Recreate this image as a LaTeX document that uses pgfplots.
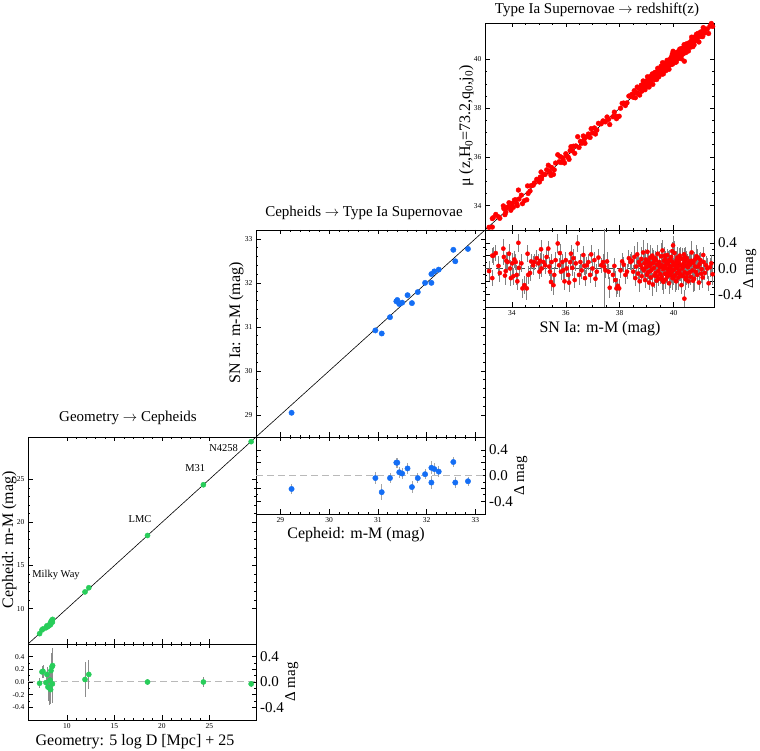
\documentclass[border=0pt]{standalone}
\usepackage{fontspec}
\setmainfont{Liberation Serif}
\usepackage{pgfplots}
\usepackage{pgfplotstable}
\pgfplotsset{compat=1.18}
\definecolor{cgreen}{RGB}{40,205,90}
\definecolor{cblue}{RGB}{20,110,245}
\definecolor{cred}{RGB}{255,0,0}

\pgfplotstableread{
x y r e
7.12 7.10 -0.02 0.08
7.37 7.53 0.16 0.10
7.47 7.64 0.17 0.10
7.79 7.78 -0.01 0.10
7.89 8.01 0.12 0.12
8.00 7.92 -0.08 0.22
8.18 8.08 -0.10 0.26
8.22 8.25 0.03 0.22
8.28 8.16 -0.12 0.22
8.32 8.50 0.18 0.28
8.42 8.66 0.24 0.30
8.49 8.75 0.26 0.28
8.47 8.44 -0.03 0.30
11.90 11.94 0.04 0.27
12.30 12.42 0.12 0.23
18.48 18.48 0.00 0.05
24.36 24.36 0.00 0.08
29.39 29.36 -0.03 0.05
}\geoTable

\pgfplotstableread{
x y r e
29.23 29.05 -0.21 0.08
30.95 30.92 -0.04 0.09
31.08 30.85 -0.26 0.12
31.25 31.22 -0.04 0.08
31.38 31.58 0.20 0.08
31.40 31.61 0.20 0.08
31.44 31.52 0.05 0.09
31.50 31.55 0.03 0.08
31.61 31.72 0.11 0.08
31.70 31.54 -0.18 0.09
31.82 31.79 -0.04 0.08
31.97 32.00 0.02 0.08
32.10 32.20 0.12 0.10
32.10 32.00 -0.11 0.10
32.16 32.26 0.10 0.10
32.25 32.30 0.06 0.09
32.55 32.75 0.21 0.08
32.59 32.49 -0.11 0.08
32.85 32.77 -0.09 0.07
}\cephTable

\pgfplotstableread{
x y r e
33.15 33.11 -0.04 0.15
33.27 33.47 0.20 0.12
33.31 33.51 0.20 0.14
33.40 33.64 0.24 0.12
33.27 33.12 -0.15 0.13
33.50 33.54 0.04 0.16
33.55 33.48 -0.07 0.14
33.68 33.99 0.31 0.15
33.70 33.88 0.18 0.12
33.79 33.91 0.12 0.14
33.84 33.94 0.10 0.13
33.89 34.12 0.23 0.15
33.77 33.73 -0.04 0.12
33.74 33.63 -0.11 0.15
33.93 33.93 0.00 0.14
33.96 33.81 -0.15 0.12
34.01 34.09 0.08 0.16
34.05 33.93 -0.12 0.13
34.09 34.23 0.14 0.13
34.14 34.24 0.10 0.12
34.18 34.08 -0.10 0.15
34.24 34.64 0.40 0.14
34.20 34.00 -0.20 0.13
34.26 34.27 0.01 0.12
34.35 34.43 0.08 0.14
34.39 34.08 -0.31 0.15
34.46 34.20 -0.26 0.14
34.55 34.24 -0.31 0.18
34.58 34.81 0.23 0.13
34.60 34.50 -0.10 0.14
34.67 34.60 -0.07 0.13
34.71 34.82 0.11 0.12
34.79 34.84 0.05 0.15
34.83 34.93 0.10 0.12
34.92 35.08 0.16 0.13
34.98 35.06 0.08 0.14
35.02 34.97 -0.05 0.12
35.05 35.17 0.12 0.12
35.08 35.38 0.30 0.15
35.10 35.10 0.00 0.13
35.17 35.27 0.10 0.12
35.23 35.28 0.05 0.14
35.29 35.47 0.18 0.13
35.35 35.66 0.31 0.12
35.38 35.41 0.03 0.15
35.41 35.36 -0.05 0.13
35.45 35.24 -0.21 0.14
35.47 35.57 0.10 0.12
35.54 35.28 -0.26 0.16
35.57 35.47 -0.10 0.13
35.62 35.75 0.13 0.12
35.70 36.09 0.39 0.15
35.75 35.80 0.05 0.12
35.78 36.02 0.24 0.14
35.82 35.77 -0.05 0.13
35.87 35.97 0.10 0.12
35.90 35.87 -0.03 0.13
35.95 35.75 -0.20 0.14
36.00 36.13 0.13 0.12
36.03 36.03 0.00 0.13
36.09 35.99 -0.10 0.15
36.12 35.90 -0.22 0.15
36.16 36.26 0.10 0.12
36.19 36.42 0.23 0.13
36.24 36.25 0.01 0.12
36.28 36.44 0.16 0.14
36.33 36.15 -0.18 0.13
36.37 36.45 0.08 0.12
36.44 36.83 0.39 0.13
36.49 36.39 -0.10 0.15
36.54 36.64 0.10 0.12
36.59 36.56 -0.03 0.13
36.65 36.86 0.21 0.14
36.68 36.72 0.04 0.14
36.71 36.56 -0.15 0.12
36.78 36.83 0.05 0.13
36.84 36.94 0.10 0.12
36.90 36.80 -0.10 0.12
36.94 37.16 0.22 0.14
36.99 36.99 0.00 0.12
37.06 37.19 0.13 0.13
37.10 36.94 -0.16 0.13
37.15 37.10 -0.05 0.12
37.21 37.38 0.17 0.14
37.31 37.36 0.05 0.12
37.38 37.48 0.10 0.13
37.42 37.45 0.03 0.70
37.47 37.44 -0.03 0.12
37.53 37.64 0.11 0.14
37.59 37.54 -0.05 0.12
37.63 37.33 -0.30 0.16
37.75 37.65 -0.10 0.13
37.80 37.84 0.04 0.12
37.84 37.66 -0.18 0.14
37.88 37.57 -0.31 0.13
37.93 37.66 -0.27 0.12
37.98 37.67 -0.31 0.14
38.03 38.00 -0.03 0.12
38.09 38.20 0.11 0.13
38.15 38.21 0.06 0.12
38.21 38.11 -0.10 0.14
38.27 38.22 -0.05 0.12
38.34 38.50 0.16 0.13
38.40 38.50 0.10 0.12
38.45 38.57 0.12 0.14
38.50 38.45 -0.05 0.11
38.54 38.72 0.18 0.17
38.58 38.43 -0.15 0.12
38.61 38.64 0.03 0.15
38.65 38.87 0.22 0.20
38.68 38.60 -0.08 0.10
38.71 38.81 0.10 0.13
38.74 38.54 -0.20 0.16
38.77 38.82 0.05 0.12
38.80 38.95 0.15 0.18
38.82 38.70 -0.12 0.11
38.85 38.85 0.00 0.14
38.87 39.12 0.25 0.19
38.90 38.87 -0.03 0.12
38.92 39.00 0.08 0.15
38.94 38.76 -0.18 0.13
38.97 39.11 0.14 0.17
38.99 39.01 0.02 0.10
39.01 38.91 -0.10 0.14
39.02 39.11 0.09 0.16
39.03 39.29 0.26 0.14
39.05 38.99 -0.06 0.11
39.07 39.18 0.11 0.17
39.09 38.87 -0.22 0.12
39.11 39.15 0.04 0.15
39.13 39.30 0.17 0.20
39.14 39.10 -0.04 0.13
39.15 39.01 -0.14 0.10
39.17 39.24 0.07 0.13
39.19 39.17 -0.02 0.16
39.21 39.41 0.20 0.12
39.23 38.98 -0.25 0.18
39.25 39.34 0.09 0.11
39.26 39.41 0.15 0.14
39.27 39.28 0.01 0.14
39.29 39.18 -0.11 0.19
39.31 39.47 0.16 0.12
39.33 39.26 -0.07 0.15
39.35 39.48 0.13 0.13
39.37 39.18 -0.19 0.17
39.38 39.26 -0.12 0.12
39.39 39.45 0.06 0.10
39.41 39.64 0.23 0.14
39.43 39.39 -0.04 0.14
39.45 39.29 -0.16 0.11
39.47 39.57 0.10 0.17
39.48 39.54 0.06 0.15
39.49 39.51 0.02 0.12
39.51 39.42 -0.09 0.15
39.53 39.72 0.19 0.20
39.55 39.42 -0.13 0.10
39.57 39.62 0.05 0.13
39.58 39.40 -0.18 0.16
39.59 39.87 0.28 0.16
39.61 39.60 -0.01 0.12
39.62 39.41 -0.21 0.18
39.64 39.76 0.12 0.11
39.65 39.85 0.20 0.14
39.66 39.69 0.03 0.14
39.68 39.60 -0.08 0.19
39.69 39.84 0.15 0.12
39.71 39.54 -0.17 0.15
39.72 39.63 -0.09 0.13
39.73 39.80 0.07 0.13
39.74 39.74 0.00 0.17
39.76 39.97 0.21 0.10
39.78 39.66 -0.12 0.14
39.79 39.88 0.09 0.14
39.80 39.91 0.11 0.16
39.81 39.76 -0.05 0.11
39.83 39.60 -0.23 0.17
39.84 39.88 0.04 0.12
39.86 40.00 0.14 0.15
39.87 39.85 -0.02 0.20
39.88 39.78 -0.10 0.20
39.89 39.91 0.02 0.10
39.91 40.09 0.18 0.13
39.93 39.87 -0.06 0.16
39.94 40.05 0.11 0.12
39.95 40.22 0.27 0.14
39.96 39.81 -0.15 0.18
39.98 40.34 0.36 0.15
39.99 40.05 0.06 0.11
40.00 39.87 -0.13 0.13
40.01 39.99 -0.02 0.14
40.03 40.27 0.24 0.19
40.04 39.93 -0.11 0.12
40.05 40.10 0.05 0.15
40.06 40.14 0.08 0.13
40.08 39.89 -0.19 0.17
40.09 40.10 0.01 0.10
40.10 39.90 -0.20 0.14
40.11 40.24 0.13 0.14
40.13 40.06 -0.07 0.11
40.14 40.31 0.17 0.17
40.15 40.24 0.09 0.12
40.16 40.19 0.03 0.15
40.18 40.04 -0.14 0.20
40.19 40.29 0.10 0.10
40.20 40.17 -0.03 0.13
40.21 40.17 -0.04 0.16
40.23 40.43 0.20 0.12
40.24 40.40 0.16 0.18
40.25 40.16 -0.09 0.11
40.27 40.32 0.05 0.14
40.29 40.03 -0.26 0.14
40.30 40.19 -0.11 0.12
40.31 40.46 0.15 0.17
40.33 40.33 0.00 0.12
40.35 40.23 -0.12 0.15
40.36 40.40 0.04 0.13
40.37 40.45 0.08 0.17
40.39 40.61 0.22 0.10
40.40 39.93 -0.47 0.14
40.41 40.35 -0.06 0.14
40.42 40.60 0.18 0.16
40.43 40.55 0.12 0.11
40.45 40.28 -0.17 0.17
40.47 40.51 0.04 0.15
40.48 40.34 -0.14 0.12
40.49 40.65 0.16 0.12
40.51 40.43 -0.08 0.15
40.53 40.55 0.02 0.20
40.54 40.61 0.07 0.13
40.55 40.35 -0.20 0.10
40.58 40.69 0.11 0.13
40.60 40.54 -0.06 0.16
40.61 40.67 0.06 0.16
40.64 40.51 -0.13 0.12
40.66 40.78 0.12 0.14
40.67 40.92 0.25 0.18
40.70 40.67 -0.03 0.11
40.72 40.53 -0.19 0.17
40.73 40.82 0.09 0.14
40.76 40.60 -0.16 0.19
40.79 40.93 0.14 0.12
40.80 40.83 0.03 0.15
40.82 40.77 -0.05 0.13
40.85 41.04 0.19 0.17
40.88 40.78 -0.10 0.10
40.90 41.07 0.17 0.14
40.91 40.94 0.03 0.14
40.94 40.72 -0.22 0.11
40.97 41.04 0.07 0.17
41.00 41.13 0.13 0.12
41.02 40.94 -0.08 0.15
41.04 41.03 -0.01 0.13
41.08 40.94 -0.14 0.16
41.10 41.31 0.21 0.12
41.12 41.22 0.10 0.18
41.16 41.09 -0.07 0.11
41.20 41.25 0.05 0.14
41.25 41.25 0.00 0.17
41.30 41.07 -0.23 0.12
41.35 41.37 0.02 0.15
41.40 41.48 0.08 0.13
41.45 41.36 -0.09 0.16
}\snTable

\pgfplotsset{
  base/.style={
    scale only axis, anchor=south west,
    tick align=inside, xtick pos=both, ytick pos=both,
    major tick length=4.5bp, minor tick length=2.2bp,
    every tick/.style={black, line width=0.6bp},
    axis line style={line width=0.9bp},
    tick label style={font=\fontsize{7.5bp}{9bp}\selectfont},
    /pgf/number format/assume math mode=true,
  },
  res/.style={base, ymin=-0.6, ymax=0.6,
    ytick={-0.4,-0.2,0,0.2,0.4}, minor y tick num=1,
    yticklabel style={/pgf/number format/.cd, fixed, fixed zerofill, precision=1},
  },
  rlab/.style={scale only axis, anchor=south west, hide x axis,
    axis y line*=right, y axis line style={draw=none},
    ymin=-0.6, ymax=0.6, ytick={-0.4,0,0.4}, yticklabels={-0.4,0.0,0.4},
    major tick length=0pt, minor tick num=0,
    yticklabel style={font=\fontsize{15bp}{18bp}\selectfont, xshift=0.5bp},
  },
  ebar/.style={error bars/.cd, y dir=both, y explicit, error mark=none,
    error bar style={#1, line width=0.8bp}},
}

\newcommand{\ttl}{\fontsize{15bp}{18bp}\selectfont}
\newcommand{\lbl}{\fontsize{16bp}{19bp}\selectfont}

\begin{document}
\begin{tikzpicture}[x=1bp,y=1bp]
\path[use as bounding box] (0,0) rectangle (760,751);

% ---------------- Panel 1: Geometry -> Cepheids ----------------
\begin{axis}[base, at={(28bp,107bp)}, width=228bp, height=207bp,
  xmin=5.9, xmax=29.9, ymin=5.9, ymax=29.9,
  xtick={10,15,20,25}, ytick={10,15,20,25}, minor tick num=4,
  xticklabels={}]
  \addplot[black, line width=0.6bp] coordinates {(5.9,5.9) (29.9,29.9)};
  \addplot[only marks, mark=*, mark size=2.6bp, color=cgreen] table[x=x,y=y] {\geoTable};
  \node[font=\fontsize{10.5bp}{12bp}\selectfont] at (axis cs:8.85,13.9) {Milky Way};
  \node[font=\fontsize{10.5bp}{12bp}\selectfont] at (axis cs:17.7,20.4) {LMC};
  \node[font=\fontsize{10.5bp}{12bp}\selectfont] at (axis cs:23.5,26.3) {M31};
  \node[font=\fontsize{10.5bp}{12bp}\selectfont] at (axis cs:26.5,28.6) {N4258};
\end{axis}
\begin{axis}[res, at={(28bp,31bp)}, width=228bp, height=76bp,
  xmin=5.9, xmax=29.9, xtick={10,15,20,25}, minor x tick num=4]
  \addplot[gray!55, line width=1bp, dash pattern=on 7bp off 4bp] coordinates {(5.9,0) (29.9,0)};
  \addplot[only marks, mark=*, mark size=2.6bp, color=cgreen, ebar={black!45}] table[x=x,y=r,y error=e] {\geoTable};
\end{axis}
\begin{axis}[rlab, at={(28bp,31bp)}, width=228bp, height=76bp, xmin=5.9, xmax=29.9]
\end{axis}

% ---------------- Panel 2: Cepheids -> SN Ia ----------------
\begin{axis}[base, at={(256bp,314bp)}, width=229bp, height=207bp,
  xmin=28.5, xmax=33.2, ymin=28.5, ymax=33.2,
  xtick={29,30,31,32,33}, ytick={29,30,31,32,33}, minor tick num=4,
  xticklabels={}]
  \addplot[black, line width=0.6bp] coordinates {(28.5,28.5) (33.2,33.2)};
  \addplot[only marks, mark=*, mark size=2.7bp, color=cblue] table[x=x,y=y] {\cephTable};
\end{axis}
\begin{axis}[res, at={(256bp,237bp)}, width=229bp, height=77bp,
  xmin=28.5, xmax=33.2, xtick={29,30,31,32,33}, minor x tick num=4,
  yticklabels={}]
  \addplot[gray!55, line width=1bp, dash pattern=on 7bp off 4bp] coordinates {(28.5,0) (33.2,0)};
  \addplot[only marks, mark=*, mark size=2.7bp, color=cblue, ebar={black!35}] table[x=x,y=r,y error=e] {\cephTable};
\end{axis}
\begin{axis}[rlab, at={(256bp,237bp)}, width=229bp, height=77bp, xmin=28.5, xmax=33.2]
\end{axis}

% ---------------- Panel 3: SN Ia -> redshift ----------------
\begin{axis}[base, at={(485bp,521bp)}, width=229bp, height=207bp,
  xmin=33, xmax=41.5, ymin=33, ymax=41.5,
  xtick={34,36,38,40}, ytick={34,36,38,40}, minor tick num=3,
  xticklabels={}]
  \addplot[only marks, mark=*, mark size=2.4bp, color=cred] table[x=x,y=y] {\snTable};
  \addplot[black, line width=0.6bp] coordinates {(33,33) (41.5,41.5)};
\end{axis}
\begin{axis}[res, at={(485bp,444bp)}, width=229bp, height=77bp,
  xmin=33, xmax=41.5, xtick={34,36,38,40}, minor x tick num=3,
  yticklabels={}]
  \addplot[black!70, line width=0.8bp, dash pattern=on 7bp off 4bp] coordinates {(33,0) (41.5,0)};
  \addplot[only marks, mark=*, mark size=2.1bp, color=cred, ebar={black!50}] table[x=x,y=r,y error=e] {\snTable};
\end{axis}
\begin{axis}[rlab, at={(485bp,444bp)}, width=229bp, height=77bp, xmin=33, xmax=41.5]
\end{axis}

% ---------------- Titles and labels ----------------
\node[anchor=base, font=\ttl] at (128,329.5) {Geometry $\rightarrow$ Cepheids};
\node[anchor=base, font=\ttl] at (364,534.5) {Cepheids $\rightarrow$ Type Ia Supernovae};
\node[anchor=base, font=\ttl] at (597,737.5) {Type Ia Supernovae $\rightarrow$ redshift(z)};

\node[anchor=base, font=\lbl] at (135,5) {Geometry: 5 log D [Mpc] + 25};
\node[anchor=base, font=\lbl] at (356,212) {Cepheid: m-M (mag)};
\node[anchor=base, font=\lbl] at (600,418) {SN Ia: m-M (mag)};

\node[anchor=base, rotate=90, font=\lbl] at (13,211) {Cepheid: m-M (mag)};
\node[anchor=base, rotate=90, font=\lbl] at (240,428) {SN Ia: m-M (mag)};
\node[anchor=base, rotate=90, font=\lbl] at (470,625) {μ (z,H\textsubscript{0}=73.2,q\textsubscript{0},j\textsubscript{0})};

\node[anchor=base, rotate=90, font=\ttl] at (295,69) {Δ mag};
\node[anchor=base, rotate=90, font=\ttl] at (524,275) {Δ mag};
\node[anchor=base, rotate=90, font=\ttl] at (753,482) {Δ mag};
\end{tikzpicture}
\end{document}
